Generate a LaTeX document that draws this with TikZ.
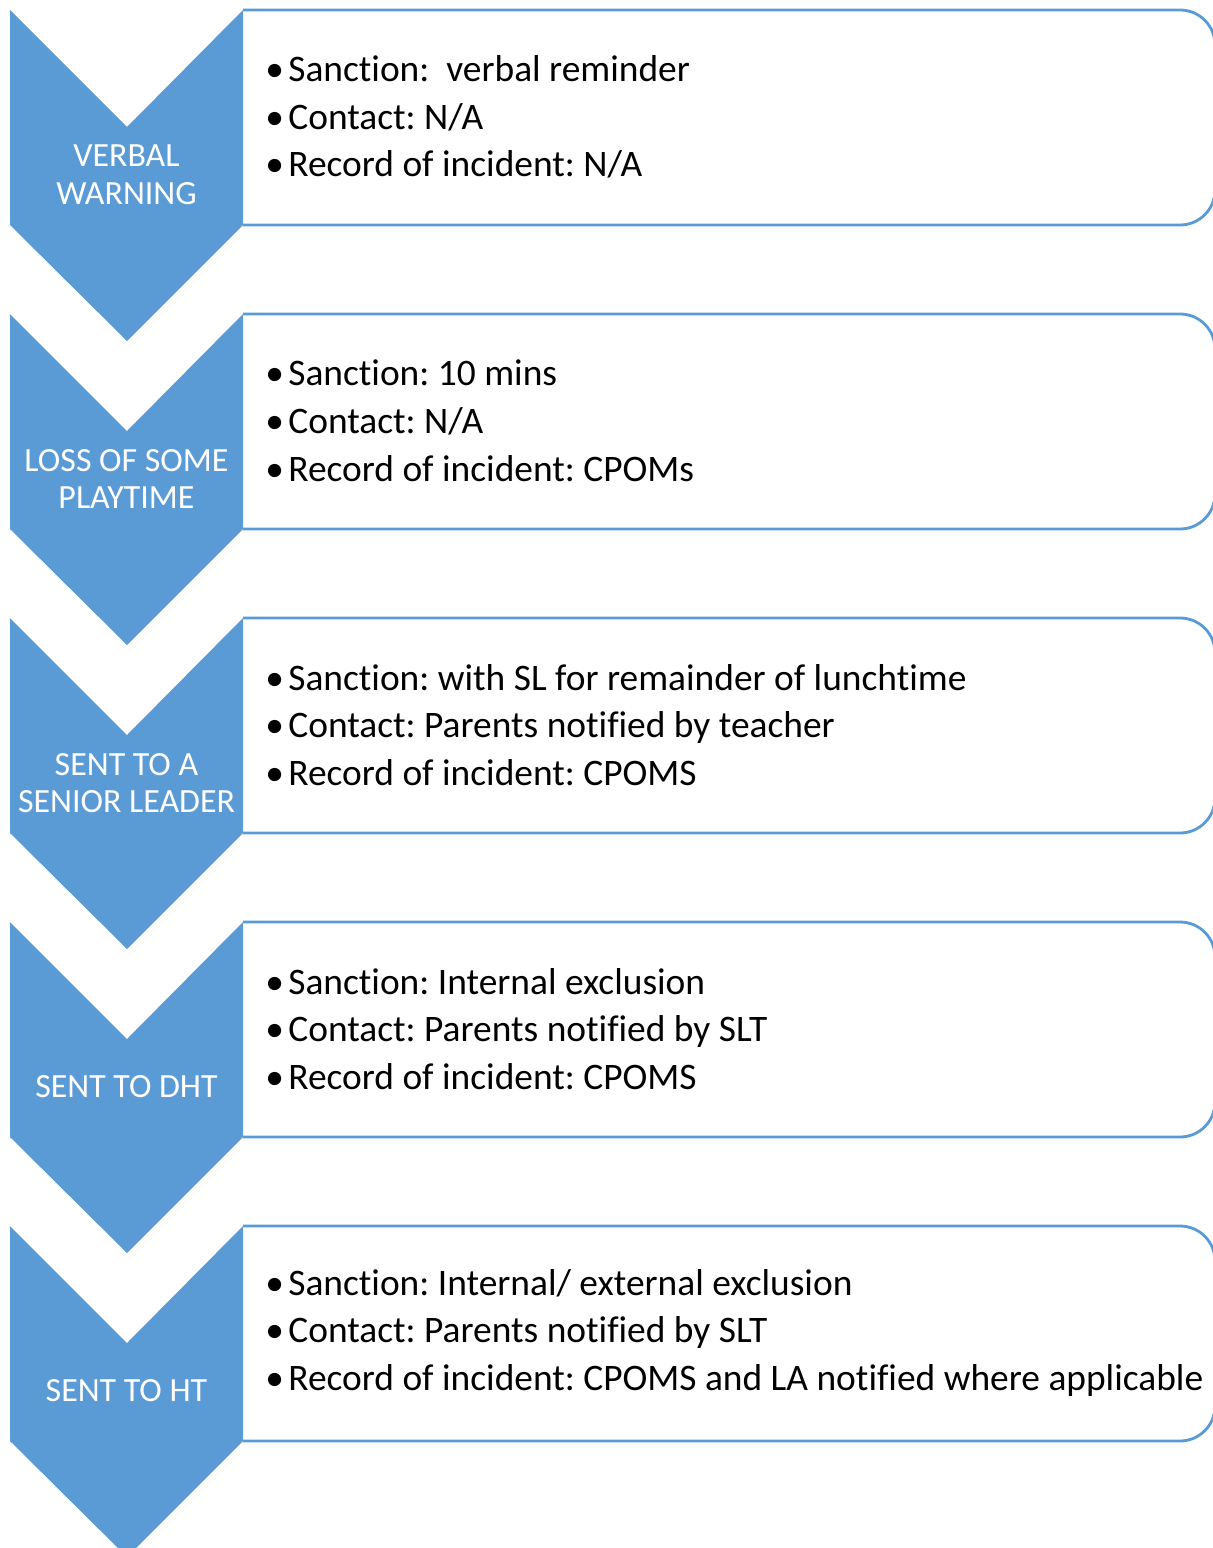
\documentclass[tikz,border=0pt]{standalone}
\usepackage{fontspec}
\setmainfont[Ligatures=NoCommon]{Carlito}
\definecolor{stageblue}{HTML}{5B9BD5}
\newcommand{\itm}{\makebox[0.46cm][l]{\textbullet}}
\frenchspacing
\tikzset{
  stage/.style={fill=stageblue},
  stagetext/.style={text=white, align=center, inner sep=0pt,
    font=\fontsize{19.3}{21.5}\selectfont},
  panel/.style={draw=stageblue, line width=1.6pt, rounded corners=0.7cm},
  ruletext/.style={anchor=west, align=left, inner sep=0pt,
    font=\fontsize{21.3}{27.2}\selectfont}
}

\begin{document}
\begin{tikzpicture}[x=0.02cm,y=-0.02cm]
  \useasboundingbox (0,0) rectangle (1213,1548);
  \foreach \t/\name/\la/\lb/\lc [count=\i] in {
      10/{VERBAL\\WARNING}/{Sanction:\ \ verbal reminder}/{Contact: N/A}/{Record of incident: N/A},
      314/{LOSS OF SOME\\PLAYTIME}/{Sanction: 10 mins}/{Contact: N/A}/{Record of incident: CPOMs},
      618/{SENT TO A\\SENIOR LEADER}/{Sanction: with SL for remainder of lunchtime}/{Contact: Parents notified by teacher}/{Record of incident: CPOMS},
      922/{SENT TO DHT}/{Sanction: Internal exclusion}/{Contact: Parents notified by SLT}/{Record of incident: CPOMS},
      1226/{SENT TO HT}/{Sanction: Internal/ external exclusion}/{Contact: Parents notified by SLT}/{Record of incident: CPOMS and LA notified where applicable}}{
    \draw [panel] (243,\t) -- (1215,\t) -- (1215,\t+215) -- (243,\t+215);
    \fill [stage]
      (10,\t)
      -- ++(117,117)
      -- ++(116,-117)
      -- ++(0,215)
      -- ++(-116,116)
      -- ++(-117,-116)
      -- cycle;
    \node [stagetext] (stage \i) at (126.5,\t+165) {\name};
    \node [ruletext] (rules \i) at (265,\t+107) {\itm\la\\\itm\lb\\\itm\lc};
  }
\end{tikzpicture}
\end{document}
